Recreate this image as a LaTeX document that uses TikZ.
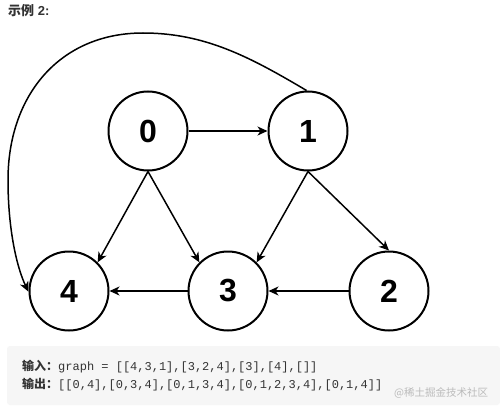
\documentclass[tikz,border=0pt]{standalone}
\usepackage{fontspec}
\setmainfont{Liberation Sans}
\newfontfamily\cjk{Noto Sans CJK SC}
\newfontfamily\cjkb{Noto Sans CJK SC}[BoldFont=*,FakeBold=0]
\newfontfamily\monof{Liberation Mono}
\usetikzlibrary{arrows.meta}
\definecolor{boxbg}{HTML}{F6F6F6}
\definecolor{txt}{HTML}{333333}
\definecolor{wm}{HTML}{BBBBBB}
\begin{document}
\begin{tikzpicture}[x=1pt,y=-1pt,
  vert/.style={circle,draw,line width=2pt,minimum size=79pt,inner sep=0pt,
    font=\fontsize{32}{32}\selectfont\bfseries},
  edgearr/.style={line width=1.5pt,-{Stealth[length=10pt,width=9pt,inset=3pt]}},
  lbl/.style={anchor=west,inner sep=0pt,text=txt}]
\useasboundingbox (0,0) rectangle (500,412);
\fill[white] (0,0) rectangle (500,412);
\node[lbl,font=\fontsize{13}{13}\selectfont\bfseries] (title) at (8,11) {{\cjk\bfseries 示例} 2:};
\node[vert] (n0) at (148,131) {0};
\node[vert] (n1) at (308,131) {1};
\node[vert] (n4) at (69,291) {4};
\node[vert] (n3) at (228,291) {3};
\node[vert] (n2) at (389,291) {2};
\draw[edgearr] (n0) -- (n1);
\draw[edgearr] (n0.south) -- (n4.north east);
\draw[edgearr] (n0.south) -- (n3.north west);
\draw[edgearr] (n1.south) -- (n3.north east);
\draw[edgearr] (n1.south) -- (n2.north);
\draw[edgearr] (n2) -- (n3);
\draw[edgearr] (n3) -- (n4);
\draw[edgearr] (n1.92) .. controls (250,57) and (205,33) .. (143,33)
  .. controls (60,33) and (8,95) .. (8,180)
  .. controls (8,230) and (17,268) .. (n4.181);
\fill[boxbg,rounded corners=3pt] (7,346) rectangle (500,405);
\node[lbl,font=\fontsize{12}{12}\selectfont] (in) at (22,367) {{\cjk\bfseries 输入：}\monof graph = [[4,3,1],[3,2,4],[3],[4],[]]};
\node[lbl,font=\fontsize{12}{12}\selectfont] (out) at (22,385) {{\cjk\bfseries 输出：}\monof [[0,4],[0,3,4],[0,1,3,4],[0,1,2,3,4],[0,1,4]]};
\node[anchor=west,inner sep=0pt,text=wm,font=\cjk\fontsize{10.5}{10.5}\selectfont] (wmk) at (394,393) {@稀土掘金技术社区};
\end{tikzpicture}
\end{document}
